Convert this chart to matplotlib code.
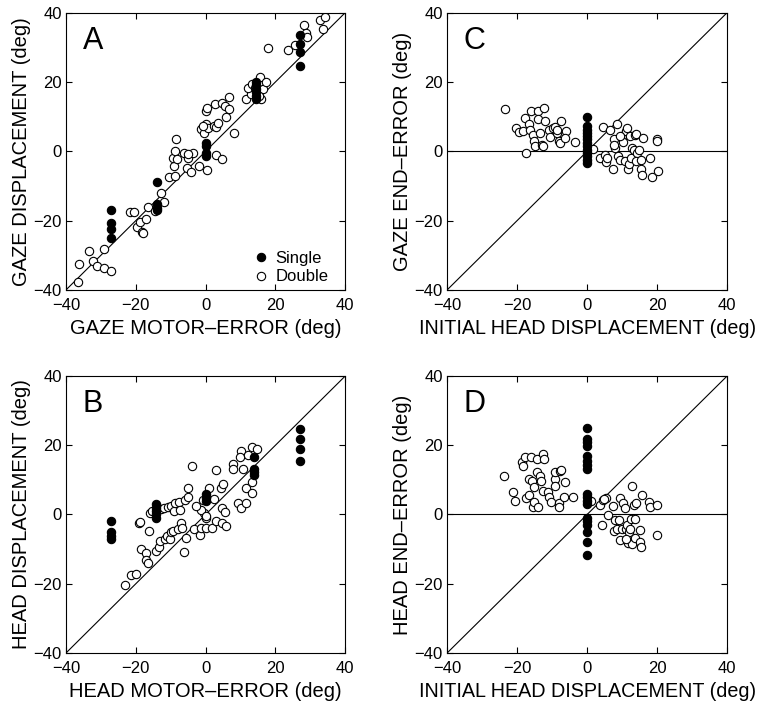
import matplotlib
matplotlib.use("Agg")
import matplotlib.pyplot as plt

plt.rcParams['font.family'] = ['Liberation Sans', 'DejaVu Sans']

# ---- Panel A: gaze displacement vs gaze motor-error
a_single_x = [-27, -27, -27, -27, -14, -14, -14, -14, 0, 0, 0, 0,
              14.5, 14.5, 14.5, 14.5, 14.5, 14.5, 27, 27, 27, 27]
a_single_y = [-17, -20.8, -22.5, -25, -9, -15.3, -16.5, -17, 2.5, 1.5, -0.4, -1.5,
              20, 19, 18, 17, 16, 15, 33.5, 31, 28.5, 24.5]
a_double_x = [-36.6, -36.3, -33.5, -32.3, -31.1, -29, -27.2, -29,
              -21.8, -20.4, -19.7, -18.9, -18.2, -18, -17.2, -16.5, -14.6, -12.7, -12,
              -10.5, -8.7, -9.2, -9.4, -8.4, -8.9, -8.2, -6.3, -5.1, -3.6, -5.3, -4.3,
              -1.9, 0.5, 2.9, 4.7, -5.1,
              -1.2, -0.5, 0.2, 0.7, 0.2, 0.5, 2.3, 3.1, 3.5, 2.6, 4.8, 5.6, 6.7, 5.7,
              6.7, 8, -0.8,
              11.7, 12.9, 12.1, 13.4, 15.5, 16, 16.4, 17.4, 15.3, 14.1,
              17.9, 23.6, 25.5, 28.1, 28.7, 29, 32.7, 34.1, 33.6]
a_double_y = [-37.7, -32.6, -28.8, -31.6, -33.1, -33.8, -34.6, -28.3,
              -17.4, -17.4, -21.8, -20.4, -23.2, -23.5, -19.6, -16, -17.2, -12.1, -14.6,
              -7.4, -7.1, -4.2, -1.8, 3.5, 0.1, -2.1, -0.4, -1.8, -0.4, -4.9, -6,
              -4.2, -5.4, -1.1, -2.3, -0.9,
              6.3, 5.4, 7.8, 6.8, 11.6, 12.4, 7.3, 7, 8.3, 13.6, 13.8, 13.1, 12.1, 10,
              15.8, 5.4, 7.3,
              15, 16.4, 18.4, 19.3, 21.5, 15, 17.9, 20, 16, 18.4,
              29.9, 29.2, 30.6, 36.3, 34.2, 33.1, 37.9, 38.6, 35.2]

# ---- Panel B: head displacement vs head motor-error
b_single_x = [-27.2, -27.2, -27.2, -27.2, -14.1, -14.1, -14.1, -14.1, -14.1,
              0, 0, 0, 13.9, 13.9, 13.9, 13.9, 27, 27, 27, 27]
b_single_y = [-1.9, -5.1, -6.2, -7.2, 2.9, 1.9, 1, 0, -1,
              5.8, 4.8, 3.8, 16.5, 13, 12.2, 11.5, 24.7, 21.8, 19, 15.5]
b_double_x = [-23, -21.5, -19.9, -18.6, -17, -17, -16.5, -19.2, -18.9, -16.3,
              -14.1, -13.4, -13, -11.5, -11.1, -10.3, -9.8, -9.4, -7.9, -7, -6.7,
              -5.7, -6.3, -3.3, -1.7, -1.2, 0.2, 1.9, 3.1, 4.8, 5.9, 0.2, -0.5, -1.2,
              -2.7, 0.2,
              -15.9, -15.4, -12.9, -11.8, -10.8, -9.8, -9.2, -8.9, -7.6, -7.3, -6,
              -5.1, -5.1, -3.8, -0.8, 1, 2.3, 3.1, 4.3, 5, 4.8, 5.6, 7.8, 7.8, 9.3,
              10.2, 10.2, 9.8, 10.8, 11.5, 11.7, 12.1, 13.4, 14.7, 13.4, 13.4]
b_double_y = [-20.4, -17.6, -17.1, -10.1, -11, -13.1, -14.1, -2.6, -2.2, -4.8,
              -10.6, -9.3, -7.7, -7, -6.2, -7.2, -5.1, -4.8, -4.3, -2.4, -3.8,
              -6.7, -10.8, -4.3, -5.8, -3.8, -3.8, -3.8, -1.9, -2.4, -3.2, -1, 0.5, 1.4,
              2.4, -0.3,
              0.5, 1, 1.6, 1.9, 2.1, 2.4, 1, 3.2, 3.6, 1.2, 4.1,
              5.1, 7.7, 13.9, 4.1, 7.7, 4.5, 12.8, 7.7, 8.9, 1.9, 0.7, 14.7, 13, 3.4,
              1.9, 18.2, 16.7, 13.1, 3.4, 7.7, 17.3, 19.5, 18.9, 9.4, 6.2]

# ---- Panel C: gaze end-error vs initial head displacement
c_single_x = [0] * 13
c_single_y = [10, 7.2, 6.2, 5.3, 4.3, 3.4, 2.4, 1.4, 0.5, -0.5, -1.4, -2.4, -3.4]
c_double_x = [-23.4, -20.2, -19.6, -18.3, -17.7, -16.7, -16.4, -17.4, -15.9, -15.5,
              -15.3, -14.8, -14, -14, -13.5, -12.9, -12.6, -12.2, -11.9, -10.9, -10.7,
              -9.7, -9.1, -8.6, -8.1, -7.8, -7.4, -5.9, -6.2, -3.6, -8.6,
              1.7, 4.6, 6.5, 8.6, 3.8, 5, 5.3, 5.7, 7.4, 7.8, 8.1, 8.8, 9.5, 10, 10.3,
              10.7, 11, 11.5, 11.6, 11.9, 12.2, 12.4, 12.9, 13.4, 13.8, 14.1, 14.3,
              14.8, 14.1, 15.3, 15.5, 15.8, 16, 18.1, 18.4, 20, 20, 20.2, 9.5, 7.6]
c_double_y = [12.2, 6.7, 5.5, 5.8, 9.6, 7.9, 6.2, -0.5, 11.5, 4.8,
              2.9, 1.4, 11.5, 9.4, 5.3, 1.9, 1.4, 12.5, 8.8, 6, 4,
              6.7, 6.9, 5.3, 2.9, 2.4, 8.6, 5.8, 3.8, 2.7, 6.2,
              0.8, 6.9, 6, 7.9, -1.9, -1, -3.1, -1.9, -5, 3.4, 1, -1.4, -2.4, 4.3, 2.7,
              -2.7, 5.8, 6.7, -5, -3.8, 4.3, -1.9, 1, 0.5, 4.8, 5, -0.5,
              0.5, -2.9, -2.4, -5, -6.7, 3.8, -1.9, -7.5, 3.4, 3.1, -5.6, 4.3, 1.9]

# ---- Panel D: head end-error vs initial head displacement
d_single_x = [0] * 18
d_single_y = [24.9, 21.8, 20.8, 19.9, 16.8, 15.5, 14.3, 13.1, 6, 5, 4, 2.9,
              -1, -2, -3, -5.1, -7.8, -11.6]
d_double_x = [-23.7, -21.2, -20.6, -18.6, -18.3, -17.8, -17.4, -16.7, -16.7, -16.1,
              -15.8, -15.6, -15.3, -15.1, -14.3, -14.3, -14, -13.4, -13.1, -12.6,
              -12.4, -12.6, -11.3, -11, -10.2, -9.1, -9.1, -9.1, -8.1, -8.1, -7.8,
              -7.4, -6.2, -6.5, -4, 1.1,
              3.8, 4.6, 5.5, 6, 4.3, 7.4, 7.6, 8.1, 8.4, 9.1, 9.4, 9.5, 10, 10.3,
              10.8, 11, 11.5, 11.6, 11.9, 12.2, 12.6, 12.9, 12.9, 13.4, 13.8, 14.1,
              13.8, 15.1, 15.1, 15.5, 15.6, 17.7, 18.1, 19.9, 20, 11, 4.8]
d_double_y = [11.2, 6.4, 4, 15.3, 14.1, 16.5, 4.7, 5.5, 10.3, 16.5,
              9.8, 2.3, 3.7, 7.9, 16, 12.4, 2.3, 11.2, 9.8, 17.5,
              16, 6.9, 6.6, 5, 3.6, 10.3, 8.3, 12.2, 3.4, 2.1, 12.7,
              12.9, 9.5, 5, 5, 4,
              2.6, 4.2, 4.7, -0.1, -2.9, 2.4, -4.9, -1.7, -4.1, -1.7, 4.7, -7.3, -4.1, 3.3,
              1.8, -4.3, -3, -8.2, -5.1, -4.3, -1.2, 8.2, -8.4, 2.6, -1.2, 3.4,
              -6.8, -4.6, -7.8, -9.4, 5.7, 3.6, 2.1, 2.8, -6, -7, 4.5]

panels = [
    ("A", [0.0865, 0.587, 0.366, 0.395], a_single_x, a_single_y, a_double_x, a_double_y,
     "GAZE MOTOR\u2013ERROR (deg)", "GAZE DISPLACEMENT (deg)", False, 14.5),
    ("C", [0.586, 0.587, 0.367, 0.395], c_single_x, c_single_y, c_double_x, c_double_y,
     "INITIAL HEAD DISPLACEMENT (deg)", "GAZE END\u2013ERROR (deg)", True, 14.2),
    ("B", [0.0865, 0.0698, 0.366, 0.3946], b_single_x, b_single_y, b_double_x, b_double_y,
     "HEAD MOTOR\u2013ERROR (deg)", "HEAD DISPLACEMENT (deg)", False, 14.5),
    ("D", [0.586, 0.0698, 0.367, 0.3946], d_single_x, d_single_y, d_double_x, d_double_y,
     "INITIAL HEAD DISPLACEMENT (deg)", "HEAD END\u2013ERROR (deg)", True, 14.2),
]

tick_vals = [-40, -20, 0, 20, 40]
tick_text = ["\u221240", "\u221220", "0", "20", "40"]

fig = plt.figure(figsize=(7.63, 7.02), dpi=100)

for letter, rect, sx, sy, dx, dy, xlab, ylab, hline, xfs in panels:
    ax = fig.add_axes(rect)
    ax.plot([-40, 40], [-40, 40], color="black", lw=0.8, zorder=1)
    if hline:
        ax.axhline(0, color="black", lw=0.8, zorder=1)
    ax.plot(dx, dy, "o", ms=6, mfc="white", mec="black", mew=0.8,
            label="Double", zorder=2)
    ax.plot(sx, sy, "o", ms=6, mfc="black", mec="black", mew=0.8,
            label="Single", zorder=3)
    ax.set_xlim(-40, 40)
    ax.set_ylim(-40, 40)
    ax.set_xticks(tick_vals)
    ax.set_yticks(tick_vals)
    ax.set_xticklabels(tick_text)
    ax.set_yticklabels(tick_text)
    ax.tick_params(direction="in", top=True, right=True, labelsize=12,
                   length=4, width=0.8)
    ax.tick_params(axis="x", pad=6)
    ax.tick_params(axis="y", pad=3)
    ax.set_xlabel(xlab, fontsize=xfs, labelpad=4)
    ax.set_ylabel(ylab, fontsize=14.5, labelpad=2)
    ax.text(0.06, 0.87, letter, transform=ax.transAxes, fontsize=22,
            va="baseline", ha="left")
    if letter == "A":
        h, l = ax.get_legend_handles_labels()
        ax.legend(h[::-1], l[::-1], loc="lower right", frameon=False,
                  fontsize=12, handletextpad=0.3, labelspacing=0.2,
                  borderaxespad=0, bbox_to_anchor=(0.964, -0.004),
                  handlelength=1.2)

fig.savefig("out.png", dpi=100)
